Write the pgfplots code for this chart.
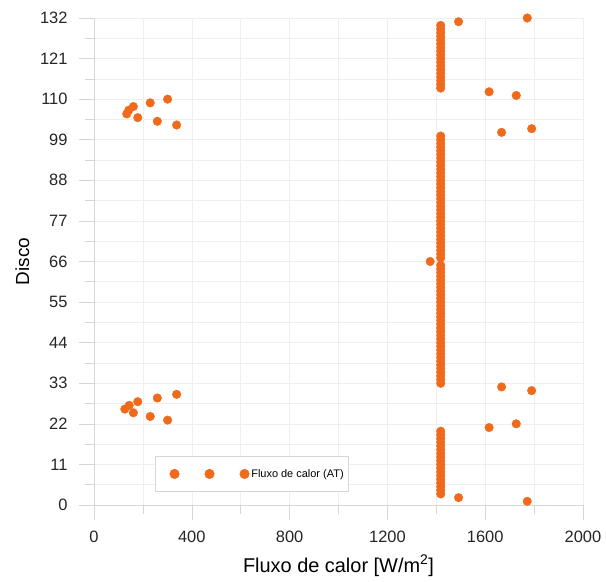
\documentclass[border=0pt]{standalone}
\usepackage{fontspec}
\setmainfont{Liberation Sans}
\usepackage{pgfplots}
\usepackage{pgfplotstable}
\pgfplotsset{compat=1.18}

\definecolor{dotc}{HTML}{F06A1C}
\definecolor{gridc}{HTML}{EFEFEF}
\definecolor{axc}{HTML}{D6D6D6}

% heat flux per disc
\pgfplotstableread{
disc flux
1 1772
2 1491
3 1418
4 1418
5 1418
6 1418
7 1418
8 1418
9 1418
10 1418
11 1418
12 1418
13 1418
14 1418
15 1418
16 1418
17 1418
18 1418
19 1418
20 1418
21 1616
22 1727
23 301
24 230
25 161
26 126
27 144
28 179
29 259
30 338
31 1790
32 1667
33 1418
34 1418
35 1418
36 1418
37 1418
38 1418
39 1418
40 1418
41 1418
42 1418
43 1418
44 1418
45 1418
46 1418
47 1418
48 1418
49 1418
50 1418
51 1418
52 1418
53 1418
54 1418
55 1418
56 1418
57 1418
58 1418
59 1418
60 1418
61 1418
62 1418
63 1418
64 1418
65 1418
66 1375
67 1418
68 1418
69 1418
70 1418
71 1418
72 1418
73 1418
74 1418
75 1418
76 1418
77 1418
78 1418
79 1418
80 1418
81 1418
82 1418
83 1418
84 1418
85 1418
86 1418
87 1418
88 1418
89 1418
90 1418
91 1418
92 1418
93 1418
94 1418
95 1418
96 1418
97 1418
98 1418
99 1418
100 1418
101 1667
102 1790
103 338
104 259
105 179
106 134
107 142
108 161
109 230
110 301
111 1727
112 1616
113 1418
114 1418
115 1418
116 1418
117 1418
118 1418
119 1418
120 1418
121 1418
122 1418
123 1418
124 1418
125 1418
126 1418
127 1418
128 1418
129 1418
130 1418
131 1491
132 1772
}\fluxdata

\begin{document}
\begin{tikzpicture}
\begin{axis}[
  name=ax,
  scale only axis,
  width=489bp, height=487bp,
  xmin=0, xmax=2000, ymin=0, ymax=132,
  xtick={0,400,...,2000},
  minor xtick={200,600,...,1800},
  ytick={0,11,...,132},
  minor ytick={5.5,16.5,...,126.5},
  axis lines*=left,
  axis line style={axc,-},
  tick align=outside,
  major tick length=15bp,
  minor tick length=9bp,
  tick style={axc, line width=0.6pt},
  grid=both,
  major grid style={gridc, line width=0.6pt},
  minor grid style={gridc, line width=0.6pt},
  /pgf/number format/assume math mode=true,
  /pgf/number format/1000 sep={},
  ticklabel style={font=\fontsize{16.5}{18}\selectfont, text=black!85},
  yticklabel style={xshift=-8bp},
  xticklabel style={yshift=-7bp},
  xlabel={Fluxo de calor [W/m\textsuperscript{2}]},
  ylabel={Disco},
  xlabel style={font=\fontsize{20}{22}\selectfont, yshift=-6bp},
  ylabel style={font=\fontsize{19}{21}\selectfont, yshift=4bp},
  clip=false,
  legend style={
    at={(0.125,0.027)}, anchor=south west,
    draw=axc, fill=white,
    font=\fontsize{11}{13}\selectfont,
    inner xsep=3bp, inner ysep=11bp,
    /tikz/every even column/.append style={column sep=4bp},
  },
  legend image code/.code={%
    \path (0bp,0bp);
    \draw[mark repeat=1, mark size=4.8bp] plot coordinates {(16bp,0bp) (51bp,0bp) (86bp,0bp)};
  },
]
\addplot[only marks, mark=*, mark size=4.3bp, color=dotc, draw=dotc, fill=dotc]
  table[x=flux, y=disc] {\fluxdata};
\addlegendentry{Fluxo de calor (AT)}
\end{axis}
% page extent around the plot area
\path (ax.south west) ++(-94bp,-77bp) coordinate (bl);
\path (ax.north east) ++(23bp,18bp) coordinate (tr);
\path (bl) rectangle (tr);
\end{tikzpicture}
\end{document}
